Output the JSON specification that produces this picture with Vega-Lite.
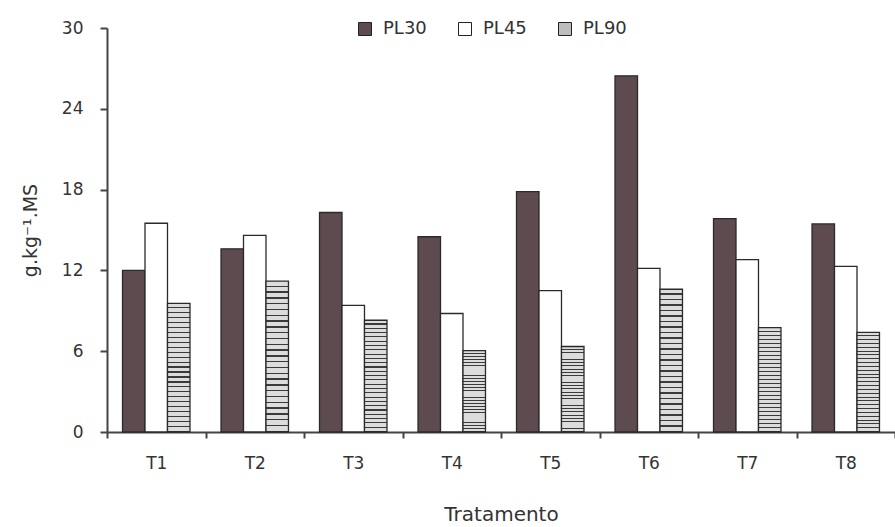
{
  "$schema": "https://vega.github.io/schema/vega-lite/v6.json",
  "width": 788,
  "height": 404,
  "autosize": {"type": "none"},
  "padding": {"left": 107, "top": 28, "right": 0, "bottom": 95},
  "background": "white",
  "config": {"view": {"stroke": null}, "font": "DejaVu Sans"},
  "data": {
    "values": [
      {"trat": "T1", "serie": "PL30", "valor": 12.0},
      {"trat": "T1", "serie": "PL45", "valor": 15.5},
      {"trat": "T1", "serie": "PL90", "valor": 9.55},
      {"trat": "T2", "serie": "PL30", "valor": 13.6},
      {"trat": "T2", "serie": "PL45", "valor": 14.6},
      {"trat": "T2", "serie": "PL90", "valor": 11.2},
      {"trat": "T3", "serie": "PL30", "valor": 16.3},
      {"trat": "T3", "serie": "PL45", "valor": 9.4},
      {"trat": "T3", "serie": "PL90", "valor": 8.3},
      {"trat": "T4", "serie": "PL30", "valor": 14.5},
      {"trat": "T4", "serie": "PL45", "valor": 8.8},
      {"trat": "T4", "serie": "PL90", "valor": 6.05},
      {"trat": "T5", "serie": "PL30", "valor": 17.85},
      {"trat": "T5", "serie": "PL45", "valor": 10.5},
      {"trat": "T5", "serie": "PL90", "valor": 6.35},
      {"trat": "T6", "serie": "PL30", "valor": 26.45},
      {"trat": "T6", "serie": "PL45", "valor": 12.15},
      {"trat": "T6", "serie": "PL90", "valor": 10.6},
      {"trat": "T7", "serie": "PL30", "valor": 15.85},
      {"trat": "T7", "serie": "PL45", "valor": 12.8},
      {"trat": "T7", "serie": "PL90", "valor": 7.75},
      {"trat": "T8", "serie": "PL30", "valor": 15.45},
      {"trat": "T8", "serie": "PL45", "valor": 12.3},
      {"trat": "T8", "serie": "PL90", "valor": 7.4}
    ]
  },
  "mark": {"type": "bar", "stroke": "#2a2a2a", "strokeWidth": 1.3},
  "encoding": {
    "x": {
      "field": "trat",
      "type": "nominal",
      "title": "Tratamento",
      "scale": {"paddingInner": 0, "paddingOuter": 0},
      "axis": {
        "labelAngle": 0,
        "tickBand": "extent",
        "domainColor": "#444",
        "domainWidth": 2,
        "tickColor": "#444",
        "tickWidth": 2,
        "tickSize": 6,
        "labelFontSize": 17,
        "labelColor": "#333",
        "labelPadding": 17,
        "titleFontSize": 20,
        "titleFontWeight": "normal",
        "titleColor": "#333",
        "titlePadding": 33
      }
    },
    "xOffset": {
      "field": "serie",
      "type": "nominal",
      "scale": {"domain": ["PL30", "PL45", "PL90"], "paddingInner": 0, "paddingOuter": 0.69}
    },
    "y": {
      "field": "valor",
      "type": "quantitative",
      "title": "g.kg⁻¹.MS",
      "scale": {"domain": [0, 30], "nice": false},
      "axis": {
        "values": [0, 6, 12, 18, 24, 30],
        "grid": false,
        "domainColor": "#444",
        "domainWidth": 2,
        "tickColor": "#444",
        "tickWidth": 2,
        "tickSize": 7,
        "labelFontSize": 17,
        "labelColor": "#333",
        "labelPadding": 17,
        "titleFontSize": 19,
        "titleFontWeight": "normal",
        "titleColor": "#333",
        "titlePadding": 21
      }
    },
    "fill": {
      "condition": {
        "test": "datum.serie === 'PL90'",
        "value": {
          "gradient": "linear", "x1": 0, "y1": 0, "x2": 0, "y2": 1,
          "stops": [
            {"offset": 0, "color": "#dcdcdc"}, {"offset": 0.0288, "color": "#dcdcdc"}, {"offset": 0.0288, "color": "#3a3a3a"}, {"offset": 0.0385, "color": "#3a3a3a"},
            {"offset": 0.0385, "color": "#dcdcdc"}, {"offset": 0.0673, "color": "#dcdcdc"}, {"offset": 0.0673, "color": "#3a3a3a"}, {"offset": 0.0769, "color": "#3a3a3a"},
            {"offset": 0.0769, "color": "#dcdcdc"}, {"offset": 0.1058, "color": "#dcdcdc"}, {"offset": 0.1058, "color": "#3a3a3a"}, {"offset": 0.1154, "color": "#3a3a3a"},
            {"offset": 0.1154, "color": "#dcdcdc"}, {"offset": 0.1442, "color": "#dcdcdc"}, {"offset": 0.1442, "color": "#3a3a3a"}, {"offset": 0.1538, "color": "#3a3a3a"},
            {"offset": 0.1538, "color": "#dcdcdc"}, {"offset": 0.1827, "color": "#dcdcdc"}, {"offset": 0.1827, "color": "#3a3a3a"}, {"offset": 0.1923, "color": "#3a3a3a"},
            {"offset": 0.1923, "color": "#dcdcdc"}, {"offset": 0.2212, "color": "#dcdcdc"}, {"offset": 0.2212, "color": "#3a3a3a"}, {"offset": 0.2308, "color": "#3a3a3a"},
            {"offset": 0.2308, "color": "#dcdcdc"}, {"offset": 0.2596, "color": "#dcdcdc"}, {"offset": 0.2596, "color": "#3a3a3a"}, {"offset": 0.2692, "color": "#3a3a3a"},
            {"offset": 0.2692, "color": "#dcdcdc"}, {"offset": 0.2981, "color": "#dcdcdc"}, {"offset": 0.2981, "color": "#3a3a3a"}, {"offset": 0.3077, "color": "#3a3a3a"},
            {"offset": 0.3077, "color": "#dcdcdc"}, {"offset": 0.3365, "color": "#dcdcdc"}, {"offset": 0.3365, "color": "#3a3a3a"}, {"offset": 0.3462, "color": "#3a3a3a"},
            {"offset": 0.3462, "color": "#dcdcdc"}, {"offset": 0.375, "color": "#dcdcdc"}, {"offset": 0.375, "color": "#3a3a3a"}, {"offset": 0.3846, "color": "#3a3a3a"},
            {"offset": 0.3846, "color": "#dcdcdc"}, {"offset": 0.4135, "color": "#dcdcdc"}, {"offset": 0.4135, "color": "#3a3a3a"}, {"offset": 0.4231, "color": "#3a3a3a"},
            {"offset": 0.4231, "color": "#dcdcdc"}, {"offset": 0.4519, "color": "#dcdcdc"}, {"offset": 0.4519, "color": "#3a3a3a"}, {"offset": 0.4615, "color": "#3a3a3a"},
            {"offset": 0.4615, "color": "#dcdcdc"}, {"offset": 0.4904, "color": "#dcdcdc"}, {"offset": 0.4904, "color": "#3a3a3a"}, {"offset": 0.5, "color": "#3a3a3a"},
            {"offset": 0.5, "color": "#dcdcdc"}, {"offset": 0.5288, "color": "#dcdcdc"}, {"offset": 0.5288, "color": "#3a3a3a"}, {"offset": 0.5385, "color": "#3a3a3a"},
            {"offset": 0.5385, "color": "#dcdcdc"}, {"offset": 0.5673, "color": "#dcdcdc"}, {"offset": 0.5673, "color": "#3a3a3a"}, {"offset": 0.5769, "color": "#3a3a3a"},
            {"offset": 0.5769, "color": "#dcdcdc"}, {"offset": 0.6058, "color": "#dcdcdc"}, {"offset": 0.6058, "color": "#3a3a3a"}, {"offset": 0.6154, "color": "#3a3a3a"},
            {"offset": 0.6154, "color": "#dcdcdc"}, {"offset": 0.6442, "color": "#dcdcdc"}, {"offset": 0.6442, "color": "#3a3a3a"}, {"offset": 0.6538, "color": "#3a3a3a"},
            {"offset": 0.6538, "color": "#dcdcdc"}, {"offset": 0.6827, "color": "#dcdcdc"}, {"offset": 0.6827, "color": "#3a3a3a"}, {"offset": 0.6923, "color": "#3a3a3a"},
            {"offset": 0.6923, "color": "#dcdcdc"}, {"offset": 0.7212, "color": "#dcdcdc"}, {"offset": 0.7212, "color": "#3a3a3a"}, {"offset": 0.7308, "color": "#3a3a3a"},
            {"offset": 0.7308, "color": "#dcdcdc"}, {"offset": 0.7596, "color": "#dcdcdc"}, {"offset": 0.7596, "color": "#3a3a3a"}, {"offset": 0.7692, "color": "#3a3a3a"},
            {"offset": 0.7692, "color": "#dcdcdc"}, {"offset": 0.7981, "color": "#dcdcdc"}, {"offset": 0.7981, "color": "#3a3a3a"}, {"offset": 0.8077, "color": "#3a3a3a"},
            {"offset": 0.8077, "color": "#dcdcdc"}, {"offset": 0.8365, "color": "#dcdcdc"}, {"offset": 0.8365, "color": "#3a3a3a"}, {"offset": 0.8462, "color": "#3a3a3a"},
            {"offset": 0.8462, "color": "#dcdcdc"}, {"offset": 0.875, "color": "#dcdcdc"}, {"offset": 0.875, "color": "#3a3a3a"}, {"offset": 0.8846, "color": "#3a3a3a"},
            {"offset": 0.8846, "color": "#dcdcdc"}, {"offset": 0.9135, "color": "#dcdcdc"}, {"offset": 0.9135, "color": "#3a3a3a"}, {"offset": 0.9231, "color": "#3a3a3a"},
            {"offset": 0.9231, "color": "#dcdcdc"}, {"offset": 0.9519, "color": "#dcdcdc"}, {"offset": 0.9519, "color": "#3a3a3a"}, {"offset": 0.9615, "color": "#3a3a3a"},
            {"offset": 0.9615, "color": "#dcdcdc"}, {"offset": 0.9904, "color": "#dcdcdc"}, {"offset": 0.9904, "color": "#3a3a3a"}, {"offset": 1, "color": "#3a3a3a"}
          ]
        }
      },
      "field": "serie",
      "type": "nominal",
      "scale": {
        "domain": ["PL30", "PL45", "PL90"],
        "range": ["#5e4b4f", "#ffffff", "#bdbdbd"]
      },
      "legend": {
        "title": null,
        "orient": "none",
        "legendX": 249,
        "legendY": -8,
        "direction": "horizontal",
        "symbolType": "square",
        "symbolSize": 169,
        "symbolStrokeColor": "#222",
        "symbolStrokeWidth": 1,
        "labelFontSize": 18,
        "labelColor": "#333",
        "labelOffset": 9,
        "columnPadding": 29,
        "encode": {
          "symbols": {
            "update": {
              "stroke": {"value": "#222"},
              "strokeWidth": {"value": 1},
              "fill": [
                {
                  "test": "datum.value === 'PL90'",
                  "value": {
                    "gradient": "linear", "x1": 0, "y1": 0, "x2": 0, "y2": 1,
                    "stops": [
                      {"offset": 0, "color": "#dcdcdc"}, {"offset": 0.15, "color": "#dcdcdc"}, {"offset": 0.15, "color": "#3a3a3a"}, {"offset": 0.2, "color": "#3a3a3a"},
                      {"offset": 0.2, "color": "#dcdcdc"}, {"offset": 0.35, "color": "#dcdcdc"}, {"offset": 0.35, "color": "#3a3a3a"}, {"offset": 0.4, "color": "#3a3a3a"},
                      {"offset": 0.4, "color": "#dcdcdc"}, {"offset": 0.55, "color": "#dcdcdc"}, {"offset": 0.55, "color": "#3a3a3a"}, {"offset": 0.6, "color": "#3a3a3a"},
                      {"offset": 0.6, "color": "#dcdcdc"}, {"offset": 0.75, "color": "#dcdcdc"}, {"offset": 0.75, "color": "#3a3a3a"}, {"offset": 0.8, "color": "#3a3a3a"},
                      {"offset": 0.8, "color": "#dcdcdc"}, {"offset": 1, "color": "#dcdcdc"}
                    ]
                  }
                },
                {"scale": "fill", "field": "value"}
              ]
            }
          }
        }
      }
    }
  }
}
